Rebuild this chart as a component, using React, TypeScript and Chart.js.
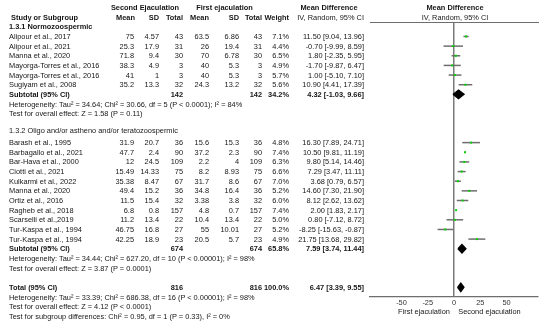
import React, { useEffect, useRef } from "react";
import { Chart, registerables } from "chart.js";

Chart.register(...registerables);

// ---------------- DATA ----------------
const studies = [
  "Alipour et al., 2017",
  "Alipour et al., 2021",
  "Manna et al., 2020",
  "Mayorga-Torres et al., 2016",
  "Mayorga-Torres et al., 2016",
  "Sugiyam et al., 2008",
  "Barash et al., 1995",
  "Barbagallo et al., 2021",
  "Bar-Hava et al., 2000",
  "Ciotti et al., 2021",
  "Kulkarmi et al., 2022",
  "Manna et al., 2020",
  "Ortiz et al., 2016",
  "Ragheb et al., 2018",
  "Scarselli et al.,2019",
  "Tur-Kaspa et al., 1994",
  "Tur-Kaspa et al., 1994",
];
const studyGroup = [0, 0, 0, 0, 0, 0, 1, 1, 1, 1, 1, 1, 1, 1, 1, 1, 1];
const secondMean = [75, 25.3, 71.8, 38.3, 41, 35.2, 31.9, 47.7, 12, 15.49, 35.38, 49.4, 11.5, 6.8, 11.2, 46.75, 42.25];
const secondSD = [4.57, 17.9, 9.4, 4.9, 1, 13.3, 20.7, 2.4, 24.5, 14.33, 8.47, 15.2, 15.4, 0.8, 13.4, 16.8, 18.9];
const secondTotal = [43, 31, 30, 3, 3, 32, 36, 90, 109, 75, 67, 36, 32, 157, 22, 27, 23];
const firstMean = [63.5, 26, 70, 40, 40, 24.3, 15.6, 37.2, 2.2, 8.2, 31.7, 34.8, 3.38, 4.8, 10.4, 55, 20.5];
const firstSD = [6.86, 19.4, 6.78, 5.3, 5.3, 13.2, 15.3, 2.3, 4, 8.93, 8.6, 16.4, 3.8, 0.7, 13.4, 10.01, 5.7];
const firstTotal = [43, 31, 30, 3, 3, 32, 36, 90, 109, 75, 67, 36, 32, 157, 22, 27, 23];
const weights = [7.1, 4.4, 6.5, 4.9, 5.7, 5.6, 4.8, 7.4, 6.3, 6.6, 7.0, 5.2, 6.0, 7.4, 5.0, 5.2, 4.9];
const meanDiff = [11.5, -0.7, 1.8, -1.7, 1.0, 10.9, 16.3, 10.5, 9.8, 7.29, 3.68, 14.6, 8.12, 2.0, 0.8, -8.25, 21.75];
const ciLow = [9.04, -9.99, -2.35, -9.87, -5.1, 4.41, 7.89, 9.81, 5.14, 3.47, 0.79, 7.3, 2.62, 1.83, -7.12, -15.63, 13.68];
const ciHigh = [13.96, 8.59, 5.95, 6.47, 7.1, 17.39, 24.71, 11.19, 14.46, 11.11, 6.57, 21.9, 13.62, 2.17, 8.72, -0.87, 29.82];

const groupTitles = ["1.3.1 Normozoospermic", "1.3.2 Oligo and/or astheno and/or teratozoospermic"];
const groupSecondTotal = [142, 674];
const groupFirstTotal = [142, 674];
const groupWeight = [34.2, 65.8];
const groupMD = [4.32, 7.59];
const groupLow = [-1.03, 3.74];
const groupHigh = [9.66, 11.44];
const groupHeterogeneity = [
  "Heterogeneity: Tau² = 34.64; Chi² = 30.66, df = 5 (P < 0.0001); I² = 84%",
  "Heterogeneity: Tau² = 34.44; Chi² = 627.20, df = 10 (P < 0.00001); I² = 98%",
];
const groupOverall = ["Test for overall effect: Z = 1.58 (P = 0.11)", "Test for overall effect: Z = 3.87 (P = 0.0001)"];

const totalSecond = 816;
const totalFirst = 816;
const totalWeight = 100.0;
const totalMD = 6.47;
const totalLow = 3.39;
const totalHigh = 9.55;
const totalNotes = [
  "Heterogeneity: Tau² = 33.39; Chi² = 686.38, df = 16 (P < 0.00001); I² = 98%",
  "Test for overall effect: Z = 4.12 (P < 0.0001)",
  "Test for subgroup differences: Chi² = 0.95, df = 1 (P = 0.33), I² = 0%",
];

const axisTicks = [-50, -25, 0, 25, 50];
const axisMin = -80;
const axisMax = 80;
const favoursLeft = "First ejaculation";
const favoursRight = "Second ejaculation";

// ---------------- LAYOUT ----------------
const W = 550;
const H = 327;
const PLOT_LEFT = 370;
const PLOT_RIGHT = 538;
const PLOT_TOP = 22;
const PLOT_BOTTOM = 297;
const ROW_MIN = -1.5;
const ROW_MAX = 27;
const groupStartRow = [0, 11];
const groupHeaderRow = [-1, 9.7];
const TOTAL_ROW = 26;

const rowY = (r: number) => PLOT_TOP + ((r - ROW_MIN) * (PLOT_BOTTOM - PLOT_TOP)) / (ROW_MAX - ROW_MIN);

const studyRows: number[] = (() => {
  const counters = [0, 0];
  return studyGroup.map((g) => groupStartRow[g] + counters[g]++);
})();
const groupSubtotalRow = groupStartRow.map((s, g) => s + studyGroup.filter((x) => x === g).length);

const COL = {
  name: 9,
  secMean: 134,
  secSD: 159,
  secTotal: 183,
  firMean: 209,
  firSD: 239,
  firTotal: 262,
  weight: 289,
  ci: 364,
};

const FONT = '"Liberation Sans", Arial, sans-serif';
const FS = 7.4;
const LH = 9;
const TEXT_COLOR = "#161616";

type TProps = { x: number; r: number; align?: "left" | "right" | "center"; bold?: boolean; children: React.ReactNode };
const T = ({ x, r, align = "left", bold = false, children }: TProps) => {
  const style: React.CSSProperties = {
    position: "absolute",
    top: rowY(r) - LH / 2,
    lineHeight: LH + "px",
    fontSize: FS,
    fontWeight: bold ? 700 : 400,
    whiteSpace: "nowrap",
    color: TEXT_COLOR,
  };
  if (align === "left") style.left = x;
  else if (align === "right") style.right = W - x;
  else {
    style.left = x;
    style.transform = "translateX(-50%)";
  }
  return <div style={style}>{children}</div>;
};

const fmtCI = (m: number, l: number, h: number) => `${m.toFixed(2)} [${l.toFixed(2)}, ${h.toFixed(2)}]`;

function ForestChart() {
  const ref = useRef<HTMLCanvasElement | null>(null);
  useEffect(() => {
    if (!ref.current) return;
    const grey = "#6e6e6e";
    const ciSets: any[] = studies.map((_, i) => ({
      type: "line",
      data: [
        { x: ciLow[i], y: studyRows[i] },
        { x: ciHigh[i], y: studyRows[i] },
      ],
      borderColor: grey,
      borderWidth: 1.5,
      pointRadius: 0,
      fill: false,
      order: 3,
    }));
    const pointSet: any = {
      type: "scatter",
      data: studies.map((_, i) => ({ x: meanDiff[i], y: studyRows[i] })),
      pointStyle: "rect",
      pointRadius: 1.4,
      backgroundColor: "#00d200",
      borderColor: "#00d200",
      borderWidth: 0,
      order: 1,
    };
    const diamond = (m: number, l: number, h: number, r: number) => ({
      type: "line",
      data: [
        { x: l, y: r },
        { x: m, y: r - 0.45 },
        { x: h, y: r },
        { x: m, y: r + 0.45 },
        { x: l, y: r },
      ],
      borderColor: "#000",
      backgroundColor: "#000",
      borderWidth: 1.2,
      pointRadius: 0,
      tension: 0,
      fill: "shape",
      order: 0,
    });
    const diamonds: any[] = groupMD.map((m, g) => diamond(m, groupLow[g], groupHigh[g], groupSubtotalRow[g]));
    diamonds.push(diamond(totalMD, totalLow, totalHigh, TOTAL_ROW));

    const chart = new Chart(ref.current, {
      type: "scatter",
      data: { datasets: [...ciSets, pointSet, ...diamonds] },
      options: {
        animation: false,
        responsive: false,
        devicePixelRatio: 1,
        layout: { padding: { left: PLOT_LEFT, right: W - PLOT_RIGHT, top: PLOT_TOP, bottom: 0 } },
        plugins: { legend: { display: false }, tooltip: { enabled: false } },
        scales: {
          x: {
            type: "linear",
            position: "bottom",
            min: axisMin,
            max: axisMax,
            afterBuildTicks: (scale: any) => {
              scale.ticks = axisTicks.map((v) => ({ value: v }));
            },
            afterFit: (scale: any) => {
              scale.height = H - PLOT_BOTTOM;
            },
            ticks: {
              autoSkip: false,
              maxRotation: 0,
              padding: 2,
              color: "#333",
              font: { family: FONT, size: FS },
              callback: (v: any) => String(v),
            },
            grid: {
              drawTicks: false,
              lineWidth: 1.5,
              color: (ctx: any) => (ctx.tick && ctx.tick.value === 0 ? "#7a7a7a" : "rgba(0,0,0,0)"),
            },
            border: { display: true, color: grey, width: 1.2 },
          },
          x2: {
            type: "linear",
            position: "top",
            min: axisMin,
            max: axisMax,
            ticks: { display: false },
            grid: { display: false, drawTicks: false },
            border: { display: true, color: grey, width: 1 },
            afterFit: (scale: any) => {
              scale.height = 0;
            },
          },
          y: {
            type: "linear",
            display: false,
            reverse: true,
            min: ROW_MIN,
            max: ROW_MAX,
          },
        },
      } as any,
    });
    return () => chart.destroy();
  }, []);
  return <canvas ref={ref} width={W} height={H} style={{ position: "absolute", left: 0, top: 0, width: W, height: H }} />;
}

export default function App() {
  const subtotalRows = groupSubtotalRow;
  return (
    <div
      style={{
        position: "absolute",
        left: 0,
        top: 0,
        width: W,
        height: H,
        background: "#fff",
        fontFamily: FONT,
        overflow: "hidden",
      }}
    >
      <ForestChart />
      {/* headers */}
      <T x={145} r={-3} align="center" bold>Second Ejaculation</T>
      <T x={224.5} r={-3} align="center" bold>First ejaculation</T>
      <T x={329} r={-3} align="center" bold>Mean Difference</T>
      <T x={455} r={-3} align="center" bold>Mean Difference</T>
      <T x={11} r={-2} bold>Study or Subgroup</T>
      <T x={COL.secMean + 1} r={-2} align="right" bold>Mean</T>
      <T x={COL.secSD} r={-2} align="right" bold>SD</T>
      <T x={COL.secTotal} r={-2} align="right" bold>Total</T>
      <T x={COL.firMean} r={-2} align="right" bold>Mean</T>
      <T x={COL.firSD} r={-2} align="right" bold>SD</T>
      <T x={COL.firTotal} r={-2} align="right" bold>Total</T>
      <T x={COL.weight} r={-2} align="right" bold>Weight</T>
      <T x={COL.ci} r={-2} align="right">IV, Random, 95% CI</T>
      <T x={455} r={-2} align="center">IV, Random, 95% CI</T>

      {groupTitles.map((g, gi) => (
        <T key={"gt" + gi} x={COL.name} r={groupHeaderRow[gi]} bold={gi === 0}>{g}</T>
      ))}

      {studies.map((s, i) => (
        <React.Fragment key={"s" + i}>
          <T x={COL.name} r={studyRows[i]}>{s}</T>
          <T x={COL.secMean} r={studyRows[i]} align="right">{String(secondMean[i])}</T>
          <T x={COL.secSD} r={studyRows[i]} align="right">{String(secondSD[i])}</T>
          <T x={COL.secTotal} r={studyRows[i]} align="right">{String(secondTotal[i])}</T>
          <T x={COL.firMean} r={studyRows[i]} align="right">{String(firstMean[i])}</T>
          <T x={COL.firSD} r={studyRows[i]} align="right">{String(firstSD[i])}</T>
          <T x={COL.firTotal} r={studyRows[i]} align="right">{String(firstTotal[i])}</T>
          <T x={COL.weight} r={studyRows[i]} align="right">{weights[i].toFixed(1) + "%"}</T>
          <T x={COL.ci} r={studyRows[i]} align="right">{fmtCI(meanDiff[i], ciLow[i], ciHigh[i])}</T>
        </React.Fragment>
      ))}

      {groupTitles.map((_, g) => (
        <React.Fragment key={"sub" + g}>
          <T x={COL.name} r={subtotalRows[g]} bold>Subtotal (95% CI)</T>
          <T x={COL.secTotal} r={subtotalRows[g]} align="right" bold>{String(groupSecondTotal[g])}</T>
          <T x={COL.firTotal} r={subtotalRows[g]} align="right" bold>{String(groupFirstTotal[g])}</T>
          <T x={COL.weight} r={subtotalRows[g]} align="right" bold>{groupWeight[g].toFixed(1) + "%"}</T>
          <T x={COL.ci} r={subtotalRows[g]} align="right" bold>{fmtCI(groupMD[g], groupLow[g], groupHigh[g])}</T>
          <T x={COL.name} r={subtotalRows[g] + 1}>{groupHeterogeneity[g]}</T>
          <T x={COL.name} r={subtotalRows[g] + 2}>{groupOverall[g]}</T>
        </React.Fragment>
      ))}

      <T x={COL.name} r={TOTAL_ROW} bold>Total (95% CI)</T>
      <T x={COL.secTotal} r={TOTAL_ROW} align="right" bold>{String(totalSecond)}</T>
      <T x={COL.firTotal} r={TOTAL_ROW} align="right" bold>{String(totalFirst)}</T>
      <T x={COL.weight} r={TOTAL_ROW} align="right" bold>{totalWeight.toFixed(1) + "%"}</T>
      <T x={COL.ci} r={TOTAL_ROW} align="right" bold>{fmtCI(totalMD, totalLow, totalHigh)}</T>
      {totalNotes.map((n, i) => (
        <T key={"tn" + i} x={COL.name} r={TOTAL_ROW + 1 + i}>{n}</T>
      ))}

      <T x={424} r={28.5} align="center">{favoursLeft}</T>
      <T x={489.5} r={28.5} align="center">{favoursRight}</T>
    </div>
  );
}
